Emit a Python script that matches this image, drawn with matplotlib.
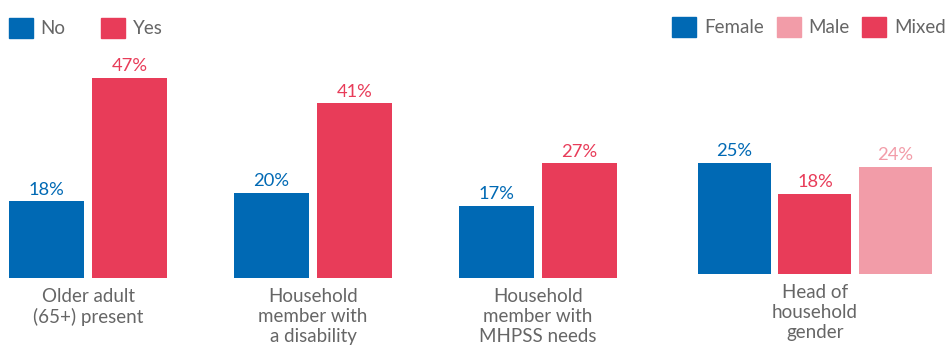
import numpy as np
import matplotlib.pyplot as plt
from matplotlib.patches import Patch

plt.rcParams['font.family'] = ['Lato', 'DejaVu Sans']

BLUE = '#0069b4'
RED = '#e83c59'
PINK = '#f29ca8'
GREY = '#666666'

# household characteristics, split by No / Yes
categories = ['Older adult\n(65+) present',
              'Household\nmember with\na disability',
              'Household\nmember with\nMHPSS needs']
no_vals = [18, 20, 17]
yes_vals = [47, 41, 27]

# head of household gender
gender_label = 'Head of\nhousehold\ngender'
gender_names = ['Female', 'Mixed', 'Male']
gender_vals = [25, 18, 24]
gender_colors = [BLUE, RED, PINK]

W, H = 953, 345
fig = plt.figure(figsize=(W / 100, H / 100), dpi=100)

VAL_FS = 13.2
CAT_FS = 13.5
LEG_FS = 13.5

# left panel: pixel box 0..640 wide, baseline 278 px from top
axL = fig.add_axes([0, (H - 278) / H, 640 / W, 234 / H])
x = np.arange(len(categories))
bw = 75 / 225
off = 41.5 / 225
b1 = axL.bar(x - off, no_vals, bw, color=BLUE)
b2 = axL.bar(x + off, yes_vals, bw, color=RED)
for bars, col in ((b1, BLUE), (b2, RED)):
    for r in bars:
        axL.annotate(f'{r.get_height():.0f}%',
                     (r.get_x() + r.get_width() / 2, r.get_height()),
                     xytext=(0, 2.5), textcoords='offset points',
                     ha='center', va='bottom', color=col, fontsize=VAL_FS)
axL.set_xlim(-88 / 225, (640 - 88) / 225)
axL.set_ylim(0, 234 / 4.26)
axL.set_xticks(x)
axL.set_xticklabels(categories, color=GREY, fontsize=CAT_FS, linespacing=1.22)

# right panel: pixel box 660..953, baseline 274 px from top
axR = fig.add_axes([660 / W, (H - 274) / H, 293 / W, 223 / H])
xr = np.arange(len(gender_vals))
pitch = 80.5
bars = axR.bar(xr, gender_vals, 73 / pitch, color=gender_colors)
for r, col in zip(bars, gender_colors):
    axR.annotate(f'{r.get_height():.0f}%',
                 (r.get_x() + r.get_width() / 2, r.get_height()),
                 xytext=(0, 2.5), textcoords='offset points',
                 ha='center', va='bottom', color=col, fontsize=VAL_FS)
axR.set_xlim((660 - 734.5) / pitch, (953 - 734.5) / pitch)
axR.set_ylim(0, 223 / 4.46)
axR.set_xticks([1])
axR.set_xticklabels([gender_label], color=GREY, fontsize=CAT_FS, linespacing=1.22)

for ax in (axL, axR):
    for s in ax.spines.values():
        s.set_visible(False)
    ax.set_yticks([])
    ax.tick_params(axis='x', length=0, pad=7)
    ax.patch.set_alpha(0)

# legends
hs = 24 / (LEG_FS * 100 / 72)
fig.legend(handles=[Patch(color=BLUE, label='No'), Patch(color=RED, label='Yes')],
           loc='upper left', bbox_to_anchor=(7 / W, 1 - 16 / H), ncol=2,
           frameon=False, fontsize=LEG_FS, handlelength=hs, handleheight=hs,
           handletextpad=0.42, columnspacing=1.9, labelcolor=GREY,
           borderaxespad=0, borderpad=0.1)
fig.legend(handles=[Patch(color=BLUE, label='Female'), Patch(color=PINK, label='Male'),
                    Patch(color=RED, label='Mixed')],
           loc='upper right', bbox_to_anchor=(1 - 5 / W, 1 - 15 / H), ncol=3,
           frameon=False, fontsize=LEG_FS, handlelength=hs, handleheight=hs,
           handletextpad=0.42, columnspacing=0.68, labelcolor=GREY,
           borderaxespad=0, borderpad=0.1)

fig.savefig('out.png', dpi=100)
